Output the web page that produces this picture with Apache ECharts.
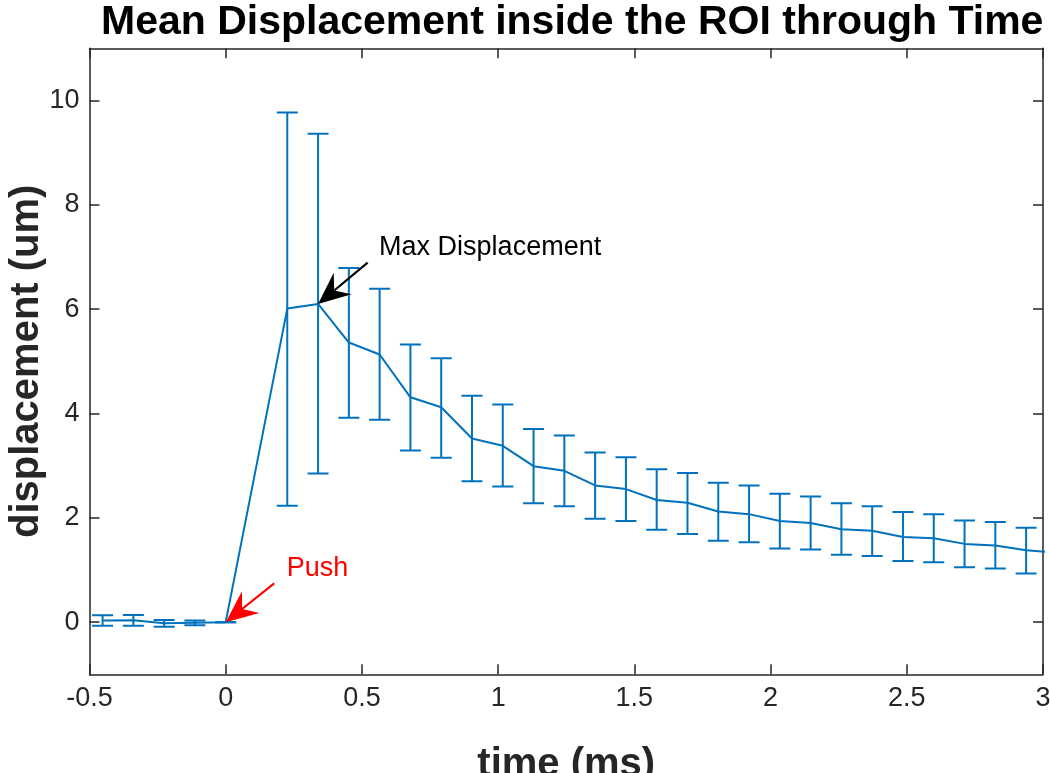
<!DOCTYPE html>
<html>
<head>
<meta charset="utf-8">
<script src="https://cdn.jsdelivr.net/npm/echarts@6/dist/echarts.min.js"></script>
<style>html,body{margin:0;padding:0;background:#fff}#c{width:1050px;height:773px}</style>
</head>
<body>
<div id="c"></div>
<script>
// ---- data ----
var times = [-0.452, -0.339, -0.226, -0.113, 0, 0.226, 0.339, 0.452, 0.565, 0.678, 0.791, 0.904, 1.017, 1.130, 1.243, 1.356, 1.469, 1.582, 1.695, 1.808, 1.921, 2.034, 2.147, 2.260, 2.373, 2.486, 2.599, 2.712, 2.825, 2.938, 3.051];
var means = [0.03, 0.035, -0.02, -0.01, 0, 6.01, 6.10, 5.36, 5.13, 4.31, 4.12, 3.52, 3.38, 2.99, 2.90, 2.62, 2.55, 2.34, 2.29, 2.12, 2.07, 1.94, 1.90, 1.78, 1.75, 1.63, 1.61, 1.50, 1.47, 1.38, 1.33];
var upper = [0.13, 0.135, 0.04, 0.03, 0, 9.77, 9.36, 6.79, 6.39, 5.32, 5.06, 4.34, 4.17, 3.70, 3.58, 3.25, 3.16, 2.93, 2.86, 2.67, 2.62, 2.46, 2.41, 2.28, 2.22, 2.11, 2.07, 1.95, 1.92, 1.81, 1.76];
var lower = [-0.07, -0.07, -0.09, -0.06, 0, 2.23, 2.85, 3.92, 3.88, 3.29, 3.15, 2.70, 2.60, 2.28, 2.22, 1.98, 1.94, 1.77, 1.69, 1.56, 1.53, 1.41, 1.39, 1.29, 1.27, 1.17, 1.15, 1.05, 1.03, 0.93, 0.90];
var yTicks = [0, 2, 4, 6, 8, 10];
var titleText = 'Mean Displacement inside the ROI through Time';
var xName = 'time (ms)';
var yName = 'displacement (um)';
// annotations: [tailT, tailV, tipT, tipV]
var arrowBlack = [0.521, 6.89, 0.339, 6.10];
var arrowRed = [0.178, 0.744, 0, 0];
var noteMax = [0.563, 7.18, 'Max Displacement'];
var notePush = [0.224, 1.03, 'Push'];

var BLUE = '#0072BD', AX = '#262626';
var lineData = times.map(function (t, i) { return [t, means[i]]; });
var errData = times.map(function (t, i) { return [t, lower[i], upper[i]]; });

var chart = echarts.init(document.getElementById('c'), null, {renderer: 'canvas'});

function arrowItem(params, api) {
  var tail = api.coord([api.value(0), api.value(1)]);
  var tip = api.coord([api.value(2), api.value(3)]);
  var color = api.value(4) === 1 ? '#FF0000' : '#000000';
  var dx = tail[0] - tip[0], dy = tail[1] - tip[1];
  var len = Math.sqrt(dx * dx + dy * dy);
  var ux = dx / len, uy = dy / len, px = -uy, py = ux;
  var L = 32, W = 14, N = 21;
  var c1 = [tip[0] + ux * L + px * W, tip[1] + uy * L + py * W];
  var c2 = [tip[0] + ux * L - px * W, tip[1] + uy * L - py * W];
  var nt = [tip[0] + ux * N, tip[1] + uy * N];
  return {
    type: 'group',
    children: [
      {type: 'line', shape: {x1: tail[0], y1: tail[1], x2: nt[0], y2: nt[1]}, style: {stroke: color, lineWidth: 2.2}},
      {type: 'polygon', shape: {points: [tip, c1, nt, c2]}, style: {fill: color}}
    ]
  };
}

function noteItem(params, api) {
  var p = api.coord([api.value(0), api.value(1)]);
  var color = api.value(3) === 1 ? '#FF0000' : '#000000';
  return {
    type: 'text',
    x: p[0], y: p[1],
    style: {text: params.dataIndex === 0 ? noteMax[2] : notePush[2], fill: color,
      font: '27px "Liberation Sans", Arial, sans-serif', align: 'left', verticalAlign: 'middle'}
  };
}

var option = {
  animation: false,
  backgroundColor: '#fff',
  title: {
    text: titleText, left: 96, top: -3,
    textStyle: {fontFamily: '"Liberation Sans", Arial, sans-serif', fontWeight: 'bold', fontSize: 41, color: '#000'}
  },
  grid: {left: 89.5, right: 7, top: 48.3, bottom: 98.7, outerBoundsMode: 'none', containLabel: false},
  xAxis: [{
    type: 'value', min: -0.5, max: 3, interval: 0.5, position: 'bottom',
    name: xName, nameLocation: 'middle', nameGap: 91, nameMoveOverlap: false,
    nameTextStyle: {fontFamily: '"Liberation Sans", Arial, sans-serif', fontWeight: 'bold', fontSize: 40, color: AX, verticalAlign: 'middle'},
    axisLine: {show: true, onZero: false, lineStyle: {color: AX, width: 1.5}},
    axisTick: {show: true, inside: true, length: 10, lineStyle: {color: AX, width: 1.5}},
    axisLabel: {fontFamily: '"Liberation Sans", Arial, sans-serif', fontSize: 27, color: AX, margin: 24, verticalAlign: 'middle',
      showMinLabel: true, showMaxLabel: true},
    splitLine: {show: false}
  }, {
    type: 'value', min: -0.5, max: 3, interval: 0.5, position: 'top',
    axisLine: {show: true, onZero: false, lineStyle: {color: AX, width: 1.5}},
    axisTick: {show: true, inside: true, length: 10, lineStyle: {color: AX, width: 1.5}},
    axisLabel: {show: false}, splitLine: {show: false}
  }],
  yAxis: [{
    type: 'value', min: -1, max: 11, position: 'left',
    name: yName, nameLocation: 'middle', nameGap: 63, nameRotate: 90, nameMoveOverlap: false,
    nameTextStyle: {fontFamily: '"Liberation Sans", Arial, sans-serif', fontWeight: 'bold', fontSize: 40, color: AX, verticalAlign: 'middle'},
    axisLine: {show: true, onZero: false, lineStyle: {color: AX, width: 1.5}},
    axisTick: {show: true, inside: true, length: 10, customValues: yTicks, lineStyle: {color: AX, width: 1.5}},
    axisLabel: {fontFamily: '"Liberation Sans", Arial, sans-serif', fontSize: 27, color: AX, margin: 10, customValues: yTicks},
    splitLine: {show: false}
  }, {
    type: 'value', min: -1, max: 11, position: 'right',
    axisLine: {show: true, onZero: false, lineStyle: {color: AX, width: 1.5}},
    axisTick: {show: true, inside: true, length: 10, customValues: yTicks, lineStyle: {color: AX, width: 1.5}},
    axisLabel: {show: false, customValues: yTicks}, splitLine: {show: false}
  }],
  series: [
    {
      type: 'custom', name: 'err', xAxisIndex: 0, yAxisIndex: 0, clip: true,
      renderItem: function (params, api) {
        var x = api.value(0);
        var pLo = api.coord([x, api.value(1)]);
        var pHi = api.coord([x, api.value(2)]);
        var h = 10.5;
        var st = {stroke: BLUE, lineWidth: 2};
        return {type: 'group', children: [
          {type: 'line', shape: {x1: pLo[0], y1: pLo[1], x2: pHi[0], y2: pHi[1]}, style: st},
          {type: 'line', shape: {x1: pHi[0] - h, y1: pHi[1], x2: pHi[0] + h, y2: pHi[1]}, style: st},
          {type: 'line', shape: {x1: pLo[0] - h, y1: pLo[1], x2: pLo[0] + h, y2: pLo[1]}, style: st}
        ]};
      },
      encode: {x: 0, y: [1, 2]},
      data: errData, z: 2
    },
    {
      type: 'line', name: 'mean', xAxisIndex: 0, yAxisIndex: 0, data: lineData,
      showSymbol: false, symbol: 'none', clip: true,
      lineStyle: {color: BLUE, width: 2}, z: 3
    },
    {
      type: 'custom', name: 'arrows', xAxisIndex: 0, yAxisIndex: 0, clip: false,
      renderItem: arrowItem, encode: {x: [0, 2], y: [1, 3]},
      data: [arrowBlack.concat([0]), arrowRed.concat([1])], z: 5
    },
    {
      type: 'custom', name: 'notes', xAxisIndex: 0, yAxisIndex: 0, clip: false,
      renderItem: noteItem, encode: {x: 0, y: 1},
      data: [[noteMax[0], noteMax[1], 0, 0], [notePush[0], notePush[1], 0, 1]], z: 5
    }
  ]
};
chart.setOption(option);
</script>
</body>
</html>
